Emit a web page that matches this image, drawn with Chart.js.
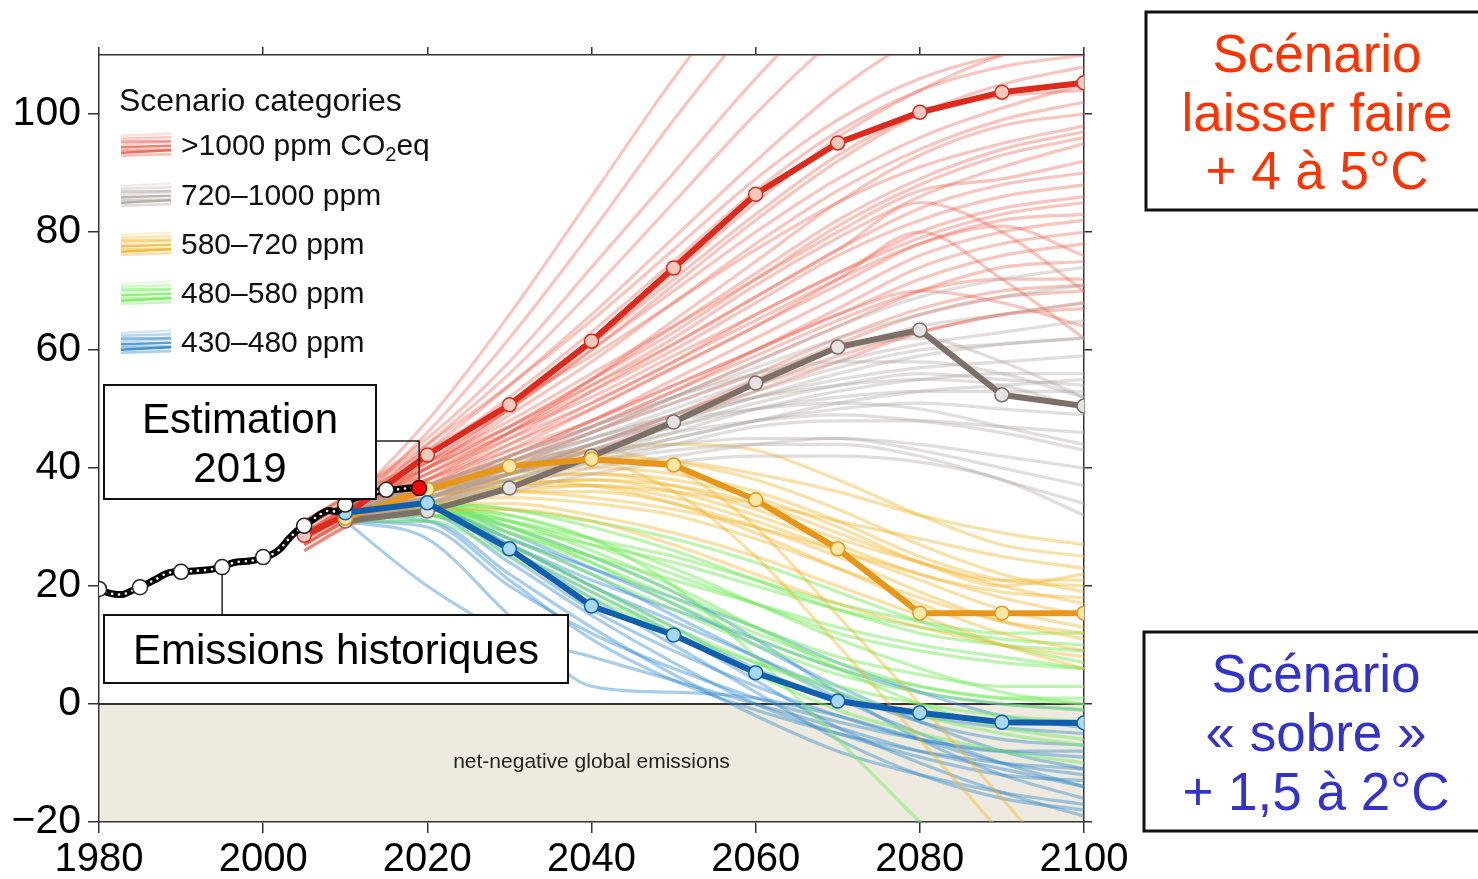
<!DOCTYPE html>
<html>
<head>
<meta charset="utf-8">
<title>Scénarios d'émissions</title>
<script src="https://cdn.jsdelivr.net/npm/chart.js@4.4.1/dist/chart.umd.min.js"></script>
<style>
  html, body { margin: 0; padding: 0; background: #fff; }
  #wrap { position: relative; width: 1478px; height: 879px; }
</style>
</head>
<body>
<div id="wrap"><canvas id="chart" width="1478" height="879"></canvas></div>
<script>
// --- data (GtCO2/yr) ---
const histYears = [1980, 1981, 1982, 1983, 1984, 1985, 1986, 1987, 1988, 1989,
  1990, 1991, 1992, 1993, 1994, 1995, 1996, 1997, 1998, 1999,
  2000, 2001, 2002, 2003, 2004, 2005, 2006, 2007, 2008, 2009,
  2010, 2011, 2012, 2013, 2014, 2015, 2016, 2017, 2018, 2019];
const histValues = [19.5, 18.9, 18.6, 18.6, 19.2, 19.8, 20.5, 21.2, 22.0, 22.4,
  22.4, 22.5, 22.6, 22.7, 22.9, 23.2, 23.8, 24.1, 24.2, 24.4,
  24.9, 25.3, 26.2, 27.8, 29.2, 30.2, 31.2, 32.2, 32.8, 32.6,
  33.8, 34.8, 35.2, 35.6, 36.0, 36.3, 36.3, 36.5, 36.6, 36.6];

const scenYears = [2005, 2010, 2020, 2030, 2040, 2050, 2060, 2070, 2080, 2090, 2100];

const medRed    = [28.6, 32.0, 42.2, 50.7, 61.5, 73.9, 86.4, 95.1, 100.3, 103.7, 105.3];
const medGrey   = [null, 31.0, 32.7, 36.6, 42.0, 47.8, 54.4, 60.5, 63.4, 52.4, 50.5];
const medYellow = [null, 31.5, 36.4, 40.3, 41.5, 40.5, 34.6, 26.3, 15.4, 15.4, 15.4];
const medBlue   = [null, 32.4, 34.1, 26.3, 16.6, 11.7, 5.3, 0.5, -1.5, -3.1, -3.2];

const redRuns = [
  [30,34,48,66,86,106,124,140,150,158,165],
  [29,33,46,62,80,99,116,130,140,148,154],
  [31,35,45,58,74,90,106,120,130,136,140],
  [28,32,44,56,70,85,100,113,122,128,132],
  [30,34,43,54,66,79,92,104,113,118,121],
  [29,33,42,52,63,75,87,97,104,108,110],
  [27,31,41,50,60,71,82,92,100,105,108],
  [30,34,42,51,61,72,83,93,100,103,104],
  [28,32,40,49,58,68,78,87,94,99,102],
  [31,35,43,51,59,68,77,85,91,95,98],
  [29,33,40,47,55,64,73,82,89,94,97],
  [27,31,39,46,54,62,71,79,86,91,95],
  [30,34,41,48,56,64,72,80,87,89,92],
  [28,32,38,45,53,61,69,77,84,88,90],
  [29,33,39,46,53,60,68,76,82,86,88],
  [26,30,37,44,51,58,66,73,80,84,86],
  [30,34,40,46,52,59,66,73,79,83,85],
  [28,32,37,43,50,57,64,71,78,82,83],
  [27,31,36,42,48,55,62,69,76,80,82],
  [31,35,41,47,54,61,69,77,85,80,70],
  [29,33,38,44,50,57,64,72,80,72,62],
  [26,30,36,41,47,53,60,67,74,78,80],
  [28,32,37,42,48,54,60,66,72,76,78],
  [30,34,39,45,51,58,65,72,78,81,76],
  [27,31,35,40,46,52,58,64,70,74,75],
  [29,33,37,42,47,53,59,65,70,72,72],
  [28,32,36,41,46,51,56,62,67,70,71],
  [26,30,34,39,44,49,55,61,66,69,70],
  [30,34,38,43,48,54,60,66,70,68,64],
  [27,31,35,39,44,49,54,59,63,66,67],
  [31,35,44,54,65,77,89,99,106,110,112],
  [28,32,40,50,61,73,85,96,104,110,114],
  [29,33,41,50,60,70,80,89,96,101,105],
  [27,31,38,46,55,65,75,85,93,98,100],
  [30,34,40,47,55,63,72,81,88,93,96],
  [28,31,35,39,43,48,53,58,63,66,68]
];

const greyRuns = [
  [null,32,36,41,46,52,58,64,69,72,74],
  [null,33,37,42,47,52,57,62,66,69,71],
  [null,32,35,40,45,50,55,60,64,66,68],
  [null,31,35,39,44,49,54,58,61,63,65],
  [null,32,36,41,45,49,53,57,60,61,62],
  [null,33,36,40,44,48,52,55,57,58,59],
  [null,31,34,38,42,46,50,53,55,56,56],
  [null,32,35,39,43,47,50,52,53,53,53],
  [null,32,35,38,42,45,48,50,51,50,49],
  [null,31,34,37,41,44,47,48,48,47,46],
  [null,33,36,40,43,46,48,49,48,46,43],
  [null,32,34,37,40,42,44,45,44,42,40],
  [null,31,35,39,42,44,45,45,43,40,37],
  [null,32,36,41,46,51,56,60,62,58,52],
  [null,33,37,42,47,52,56,58,58,56,52],
  [null,32,35,40,44,48,50,51,50,47,44],
  [null,31,34,38,41,43,44,44,42,38,34],
  [null,32,35,39,43,47,51,54,56,55,54],
  [null,33,36,39,42,45,48,51,53,54,55],
  [null,31,33,36,39,41,42,42,41,38,32],
  [null,32,36,40,44,48,52,56,59,61,62],
  [null,33,37,41,45,49,52,54,55,54,50]
];

const yellowRuns = [
  [null,32,36,39,41,41,39,36,32,29,27],
  [null,33,37,40,42,41,38,33,27,22,19],
  [null,31,35,37,38,37,34,29,24,20,17],
  [null,32,35,36,35,33,30,26,22,18,15],
  [null,31,34,35,34,32,28,23,18,14,12],
  [null,33,36,38,37,34,29,23,17,12,9],
  [null,32,34,34,32,29,25,20,15,10,6],
  [null,31,33,33,31,27,22,17,13,10,8],
  [null,32,35,37,38,36,32,27,22,19,18],
  [null,33,36,39,40,39,36,31,25,21,20],
  [null,32,36,40,43,44,43,38,32,27,25],
  [null,31,34,36,36,34,30,25,19,14,11],
  [null,32,36,40,41,36,25,10,-6,-22,-38],
  [null,33,37,41,43,40,30,15,0,-16,-32],
  [null,32,35,38,39,38,35,30,24,20,22],
  [null,33,36,38,39,37,33,28,24,21,21],
  [null,31,34,36,37,36,34,31,28,25,23],
  [null,32,35,37,37,35,31,26,21,16,13]
];

const greenRuns = [
  [null,32,34,33,30,26,21,16,12,10,9],
  [null,31,33,31,27,22,17,12,9,7,6],
  [null,32,33,30,25,19,13,8,5,3,3],
  [null,31,32,28,22,16,10,5,2,0,-1],
  [null,32,34,32,28,23,17,11,6,2,0],
  [null,33,34,31,26,20,13,6,0,-4,-6],
  [null,31,32,27,20,13,7,2,-2,-5,-7],
  [null,32,33,29,24,18,12,7,3,1,0],
  [null,31,31,25,18,12,7,3,0,-2,-3],
  [null,32,33,30,27,24,20,16,13,11,10],
  [null,31,33,32,28,20,8,-6,-20,-34,-48],
  [null,32,32,26,19,12,5,-1,-5,-8,-10],
  [null,31,33,31,28,25,21,17,14,12,12],
  [null,32,34,33,31,28,24,19,14,10,7],
  [null,33,34,30,24,17,11,6,3,1,1],
  [null,31,32,29,25,21,17,13,10,8,6]
];

const blueRuns = [
  [null,32,33,27,20,13,6,1,-2,-4,-5],
  [null,33,33,25,16,9,3,-2,-6,-8,-9],
  [null,32,32,24,15,7,0,-5,-9,-12,-13],
  [null,31,31,22,13,5,-2,-8,-12,-15,-17],
  [null,32,33,28,22,15,8,1,-5,-10,-14],
  [null,33,34,29,23,17,10,3,-3,-8,-11],
  [null,32,32,26,19,12,4,-4,-10,-15,-19],
  [null,31,32,27,21,16,11,6,2,0,-1],
  [null,32,31,21,11,4,-1,-5,-8,-10,-11],
  [null,33,34,30,25,19,11,2,-6,-12,-16],
  [null,32,33,28,23,18,13,7,2,-2,-4],
  [null,31,30,20,12,6,1,-3,-6,-8,-8],
  [null,31,28,15,3,2,1,-2,-6,-10,-12],
  [null,31,20,12,8,4,0,-4,-8,-11,-14],
  [null,32,33,26,18,10,2,-6,-12,-16,-18],
  [null,33,33,27,20,14,8,2,-3,-6,-7]
];

const categories = ['>1000 ppm CO2eq', '720\u20131000 ppm', '580\u2013720 ppm', '480\u2013580 ppm', '430\u2013480 ppm'];
const categoryColors = ['235, 95, 75', '175, 165, 160', '240, 180, 45', '120, 235, 95', '45, 135, 205'];

const xTicks = [1980, 2000, 2020, 2040, 2060, 2080, 2100];
const yTicks = [-20, 0, 20, 40, 60, 80, 100];

// --- helpers ---
const FONT = '"Liberation Sans", Arial, Helvetica, sans-serif';

const toPoints = (years, vals) =>
  years.map((yr, i) => ({ x: yr, y: vals[i] })).filter(p => p.y !== null);

function runSets(runs, rgb, alpha) {
  return runs.map(r => ({
    data: toPoints(scenYears, r),
    borderColor: `rgba(${rgb}, ${alpha})`,
    borderWidth: 3.2,
    pointRadius: 0,
    cubicInterpolationMode: 'monotone',
    order: 20
  }));
}

function medianSet(vals, line, fill, order) {
  return {
    data: toPoints(scenYears, vals),
    borderColor: line,
    borderWidth: 6,
    pointRadius: 7,
    pointBackgroundColor: fill,
    pointBorderColor: line,
    pointBorderWidth: 1.5,
    tension: 0,
    order: order
  };
}

const histMarks = histYears
  .map((yr, i) => ({ x: yr, y: histValues[i] }))
  .filter(p => p.x % 5 === 0 || p.x === 2019);

// --- plugins: shaded area, legend, boxes ---
const backdrop = {
  id: 'backdrop',
  beforeDatasetsDraw(chart) {
    const { ctx, chartArea: a, scales: { x, y } } = chart;
    const y0 = y.getPixelForValue(0), yLow = y.getPixelForValue(-20);
    ctx.save();
    ctx.fillStyle = '#eeeadf';
    ctx.fillRect(a.left + 1, y0, a.right - a.left - 2, yLow - y0 - 1);
    ctx.fillStyle = '#222';
    ctx.font = '21px ' + FONT;
    ctx.textAlign = 'center';
    ctx.textBaseline = 'middle';
    ctx.fillText('net-negative global emissions', x.getPixelForValue(2040), y.getPixelForValue(-9.8));
    ctx.strokeStyle = '#333';
    ctx.lineWidth = 2;
    ctx.beginPath();
    ctx.moveTo(a.left, y0);
    ctx.lineTo(a.right, y0);
    ctx.stroke();
    ctx.restore();
  }
};

function swatch(ctx, yc, rgb) {
  const alphas = [0.2, 0.35, 0.55, 0.3, 0.8, 0.5, 0.9, 0.4];
  alphas.forEach((al, i) => {
    const off = -10 + i * 2.8;
    ctx.strokeStyle = `rgba(${rgb}, ${al})`;
    ctx.lineWidth = 2.6;
    ctx.beginPath();
    ctx.moveTo(121, yc + off + 1);
    ctx.lineTo(171, yc + off - 1.5 + (i % 3));
    ctx.stroke();
  });
}

const legendBox = {
  id: 'legendBox',
  afterDatasetsDraw(chart) {
    const ctx = chart.ctx;
    ctx.save();
    ctx.fillStyle = '#111';
    ctx.textAlign = 'left';
    ctx.textBaseline = 'alphabetic';
    ctx.font = '32px ' + FONT;
    ctx.fillText('Scenario categories', 119, 111);
    const rows = [145, 195, 244, 293, 342];
    rows.forEach((yc, i) => {
      swatch(ctx, yc, categoryColors[i]);
      ctx.fillStyle = '#111';
      ctx.font = '30px ' + FONT;
      if (i === 0) {
        let xx = 181;
        ctx.fillText('>1000 ppm CO', xx, yc + 10);
        xx += ctx.measureText('>1000 ppm CO').width;
        ctx.font = '20px ' + FONT;
        ctx.fillText('2', xx, yc + 16);
        xx += ctx.measureText('2').width;
        ctx.font = '30px ' + FONT;
        ctx.fillText('eq', xx, yc + 10);
      } else {
        ctx.fillText(categories[i], 181, yc + 10);
      }
    });
    ctx.restore();
  }
};

function textBox(ctx, x, y, w, h, lw) {
  ctx.fillStyle = '#fff';
  ctx.fillRect(x, y, w, h);
  ctx.lineWidth = lw;
  ctx.strokeStyle = '#111';
  ctx.strokeRect(x, y, w, h);
}

const notes = {
  id: 'notes',
  afterDraw(chart) {
    const { ctx, scales: { x, y } } = chart;
    ctx.save();
    // connector lines
    ctx.strokeStyle = '#222';
    ctx.lineWidth = 1.5;
    const x19 = x.getPixelForValue(2019), y19 = y.getPixelForValue(36.6);
    ctx.beginPath();
    ctx.moveTo(376, 441);
    ctx.lineTo(x19, 441);
    ctx.lineTo(x19, y19 - 7);
    ctx.stroke();
    const x95 = x.getPixelForValue(1995), y95 = y.getPixelForValue(23.2);
    ctx.beginPath();
    ctx.moveTo(x95, y95 + 7);
    ctx.lineTo(x95, 615);
    ctx.stroke();

    textBox(ctx, 104, 385, 272, 114, 2);
    textBox(ctx, 104, 615, 464, 68, 2);
    ctx.fillStyle = '#000';
    ctx.textAlign = 'center';
    ctx.textBaseline = 'alphabetic';
    ctx.font = '42px ' + FONT;
    ctx.fillText('Estimation', 240, 433);
    ctx.fillText('2019', 240, 482);
    ctx.fillText('Emissions historiques', 336, 664);

    textBox(ctx, 1146, 12, 345, 198, 3);
    textBox(ctx, 1144, 632, 347, 199, 3);
    ctx.font = '53px ' + FONT;
    ctx.fillStyle = '#ff3300';
    ctx.fillText('Scénario', 1317, 72);
    ctx.fillText('laisser faire', 1317, 131);
    ctx.fillText('+ 4 à 5°C', 1317, 189);
    ctx.fillStyle = '#3333cc';
    ctx.fillText('Scénario', 1316, 692);
    ctx.fillText('« sobre »', 1316, 751);
    ctx.fillText('+ 1,5 à 2°C', 1316, 810);
    ctx.restore();
  }
};

// --- datasets ---
const datasets = [
  ...runSets(greyRuns, categoryColors[1], 0.38),
  ...runSets(redRuns, categoryColors[0], 0.36),
  ...runSets(yellowRuns, categoryColors[2], 0.42),
  ...runSets(greenRuns, categoryColors[3], 0.5),
  ...runSets(blueRuns, categoryColors[4], 0.42),
  medianSet(medGrey, '#7d7068', '#e6e3e2', 9),
  medianSet(medRed, '#dc2a1c', '#f6c9bf', 8),
  medianSet(medYellow, '#e8961a', '#fbe7a6', 7),
  medianSet(medBlue, '#0f5fae', '#a9d8f2', 6),
  {
    data: toPoints(histYears, histValues),
    borderColor: '#000',
    borderWidth: 7,
    pointRadius: 0,
    tension: 0.2,
    order: 3
  },
  {
    data: toPoints(histYears, histValues),
    borderColor: '#fff',
    borderWidth: 2.6,
    borderDash: [0, 7],
    borderCapStyle: 'round',
    pointRadius: 0,
    tension: 0.2,
    order: 2
  },
  {
    data: histMarks,
    showLine: false,
    pointRadius: 7.5,
    pointBackgroundColor: histMarks.map(p => p.x === 2019 ? '#ee0a0a' : '#fff'),
    pointBorderColor: histMarks.map(p => p.x === 2019 ? '#5a0000' : '#222'),
    pointBorderWidth: 1.5,
    order: 1
  }
];

const tickGrid = (len) => ({
  drawOnChartArea: false,
  drawTicks: true,
  tickLength: len,
  color: '#333',
  lineWidth: 1.5
});
const axisBorder = { display: true, color: '#333', width: 1.5 };

new Chart(document.getElementById('chart'), {
  type: 'line',
  data: { datasets },
  options: {
    responsive: false,
    animation: false,
    layout: { padding: 0 },
    plugins: { legend: { display: false }, tooltip: { enabled: false } },
    scales: {
      x: {
        type: 'linear', position: 'bottom', min: 1980, max: 2100,
        afterBuildTicks: s => { s.ticks = xTicks.map(v => ({ value: v })); },
        ticks: { color: '#000', font: { family: FONT, size: 40 }, padding: 3, maxRotation: 0, callback: v => String(v) },
        grid: tickGrid(11), border: axisBorder,
        afterFit: s => { s.height = 57; }
      },
      xTop: {
        type: 'linear', position: 'top', min: 1980, max: 2100,
        afterBuildTicks: s => { s.ticks = xTicks.map(v => ({ value: v })); },
        ticks: { display: false },
        grid: tickGrid(8), border: axisBorder,
        afterFit: s => { s.height = 55; }
      },
      y: {
        type: 'linear', position: 'left', min: -20, max: 110,
        afterBuildTicks: s => { s.ticks = yTicks.map(v => ({ value: v })); },
        ticks: { color: '#000', font: { family: FONT, size: 41 }, padding: 7,
          callback: v => v < 0 ? '\u2212' + Math.abs(v) : String(v) },
        grid: tickGrid(11), border: axisBorder,
        afterFit: s => { s.width = 99; }
      },
      yRight: {
        type: 'linear', position: 'right', min: -20, max: 110,
        afterBuildTicks: s => { s.ticks = yTicks.map(v => ({ value: v })); },
        ticks: { display: false },
        grid: tickGrid(8), border: axisBorder,
        afterFit: s => { s.width = 394; }
      }
    }
  },
  plugins: [backdrop, legendBox, notes]
});
</script>
</body>
</html>
